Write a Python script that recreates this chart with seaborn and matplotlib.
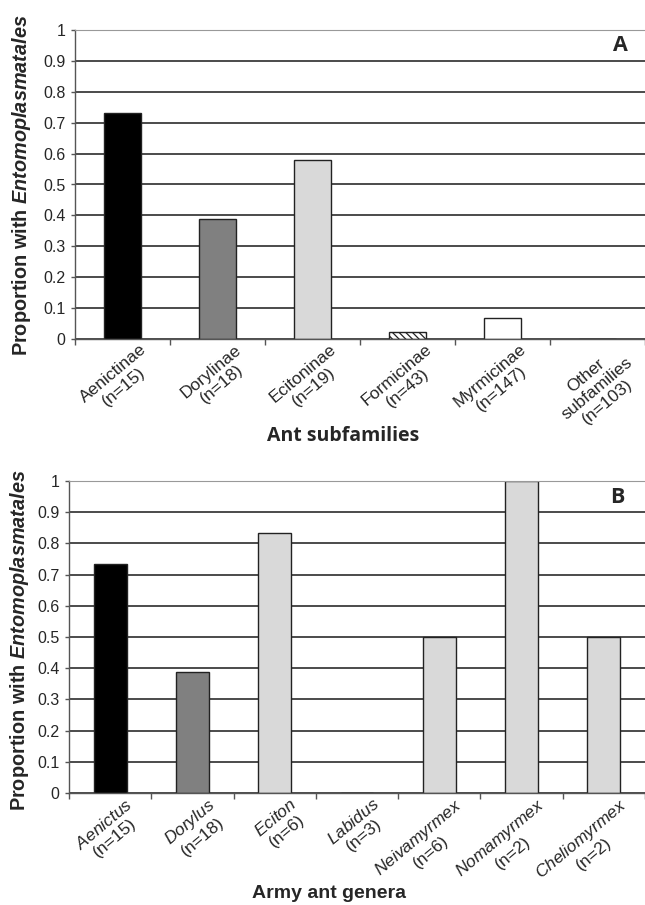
import numpy as np
import matplotlib
matplotlib.use("Agg")
import matplotlib.pyplot as plt
import matplotlib.transforms as mtransforms
import seaborn as sns

# panel A: ant subfamilies
subfamilies = ["Aenictinae\n(n=15)", "Dorylinae\n(n=18)", "Ecitoninae\n(n=19)",
               "Formicinae\n(n=43)", "Myrmicinae\n(n=147)", "Other\nsubfamilies\n(n=103)"]
prop_sub = [0.733, 0.389, 0.579, 0.023, 0.068, 0.0]
colors_sub = ["#000000", "#808080", "#d9d9d9", "#ffffff", "#ffffff", "#ffffff"]

# panel B: army ant genera
genera = ["Aenictus", "Dorylus", "Eciton", "Labidus", "Neivamyrmex", "Nomamyrmex", "Cheliomyrmex"]
n_gen = [15, 18, 6, 3, 6, 2, 2]
prop_gen = [0.733, 0.389, 0.833, 0.0, 0.5, 1.0, 0.5]
colors_gen = ["#000000", "#808080", "#d9d9d9", "#d9d9d9", "#d9d9d9", "#d9d9d9", "#d9d9d9"]

sns.set_style("white")
plt.rcParams["font.family"] = ["Liberation Sans", "DejaVu Sans"]
plt.rcParams["mathtext.fontset"] = "custom"
plt.rcParams["mathtext.it"] = "Liberation Sans:italic"
plt.rcParams["mathtext.bfit"] = "Liberation Sans:italic:bold"
plt.rcParams["mathtext.rm"] = "Liberation Sans"
plt.rcParams["hatch.linewidth"] = 0.9

W, H = 645, 905
fig = plt.figure(figsize=(W / 100, H / 100), dpi=100)
axA = fig.add_axes([75/W, 1-339/H, 1-75/W, (339-30)/H])
axB = fig.add_axes([69/W, 1-793/H, 1-69/W, (793-481)/H])


def style_axes(ax, n):
    ax.set_ylim(0, 1)
    ax.set_xlim(-0.5, n - 0.5)
    ax.set_yticks(np.arange(0, 1.01, 0.1))
    ax.set_yticklabels([f"{v:g}" for v in np.arange(0, 1.01, 0.1)], fontsize=11.5)
    ax.yaxis.grid(True, color="#1a1a1a", linewidth=1.1)
    ax.set_axisbelow(True)
    for s in ["left", "bottom"]:
        ax.spines[s].set_color("#555555")
        ax.spines[s].set_linewidth(1.0)
    ax.spines["top"].set_color("#999999")
    ax.spines["right"].set_visible(False)
    ax.tick_params(axis="y", which="major", length=3, width=1, color="#555555", pad=4, left=True)
    ax.tick_params(axis="x", which="major", length=0, pad=2)
    ax.set_xticks(np.arange(n + 1) - 0.5, minor=True)
    ax.tick_params(axis="x", which="minor", length=4, width=1, color="#555555", bottom=True)
    ax.set_ylabel("")


def shift_labels(ax, dx):
    off = mtransforms.ScaledTranslation(dx / 100, 0, fig.dpi_scale_trans)
    for lab in ax.get_xticklabels():
        lab.set_transform(lab.get_transform() + off)
        lab.set_linespacing(1.15)


ylab = r"Proportion with $\mathbfit{Entomoplasmatales}$"

# panel A
sns.barplot(x=list(range(len(subfamilies))), y=prop_sub, hue=list(range(len(subfamilies))),
            palette=colors_sub, width=0.38, edgecolor="#222222", linewidth=1.0,
            legend=False, ax=axA)
axA.patches[3].set_hatch("\\\\\\\\\\")
style_axes(axA, len(subfamilies))
axA.set_xticks(range(len(subfamilies)))
axA.set_xticklabels(subfamilies, rotation=40, ha="right", rotation_mode="anchor",
                    multialignment="center", fontsize=12.5)
shift_labels(axA, 17)
axA.set_xlabel("")
fig.text(343/W, 1-436/H, "Ant subfamilies", fontsize=14, fontweight="bold",
         family=["Open Sans", "DejaVu Sans"], ha="center", va="center")
fig.text(22/W, 1-185/H, ylab, rotation=90, fontsize=14.3, fontweight="bold",
         ha="center", va="center")
fig.text(620/W, 1-45.5/H, "A", fontsize=15.5, fontweight="bold",
         family=["Open Sans", "DejaVu Sans"], ha="center", va="center")

# panel B
sns.barplot(x=list(range(len(genera))), y=prop_gen, hue=list(range(len(genera))),
            palette=colors_gen, width=0.4, edgecolor="#222222", linewidth=1.0,
            legend=False, ax=axB)
style_axes(axB, len(genera))
axB.set_xticks(range(len(genera)))
gen_labels = [rf"$\mathit{{{g}}}$" + f"\n(n={n})" for g, n in zip(genera, n_gen)]
axB.set_xticklabels(gen_labels, rotation=40, ha="right", rotation_mode="anchor",
                    multialignment="center", fontsize=12.5)
shift_labels(axB, 15)
axB.set_xlabel("")
fig.text(329/W, 1-893/H, "Army ant genera", fontsize=14, fontweight="bold",
         ha="center", va="center")
fig.text(20/W, 1-640/H, ylab, rotation=90, fontsize=14.3, fontweight="bold",
         ha="center", va="center")
fig.text(617/W, 1-497/H, "B", fontsize=15.5, fontweight="bold",
         family=["Open Sans", "DejaVu Sans"], ha="center", va="center")

fig.savefig("out.png", dpi=100)
